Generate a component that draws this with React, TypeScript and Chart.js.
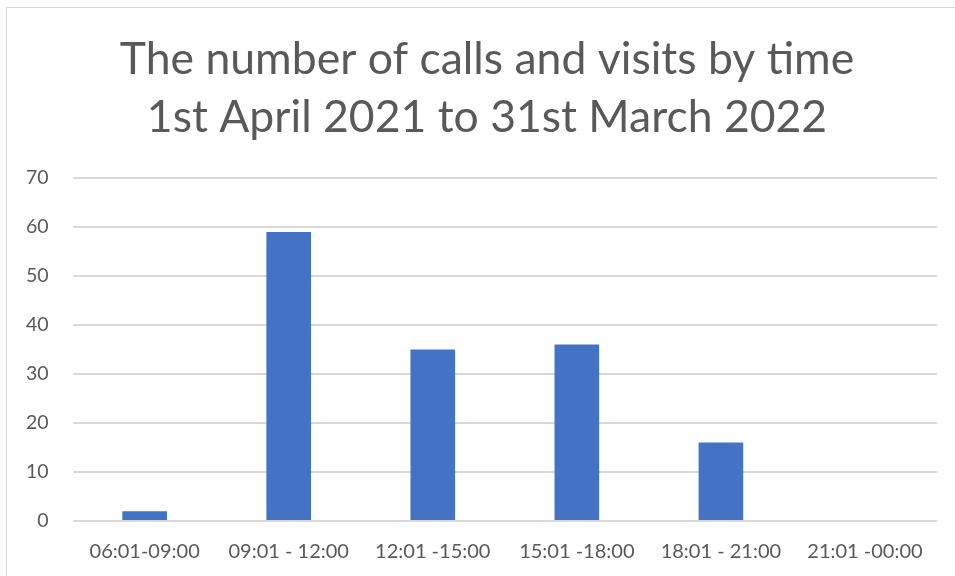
import React, { useEffect, useRef } from "react";
import { Chart, registerables } from "chart.js";

Chart.register(...registerables);

const categories = ["06:01-09:00", "09:01 - 12:00", "12:01 -15:00", "15:01 -18:00", "18:01 - 21:00", "21:01 -00:00"];
const calls = [2, 59, 35, 36, 16, 0];
const titleLines = ["The number of calls and visits by time", "1st April 2021 to 31st March 2022"];

const FONT = "Lato, 'Open Sans', sans-serif";

const titlePlugin = {
  id: "customTitle",
  afterDraw(chart: any) {
    const ctx = chart.ctx;
    ctx.save();
    ctx.fillStyle = "#595959";
    ctx.font = `44.5px ${FONT}`;
    ctx.textAlign = "center";
    ctx.textBaseline = "alphabetic";
    const cx = 487;
    const baselines = [74, 132];
    titleLines.forEach((t, i) => ctx.fillText(t, cx, baselines[i]));
    ctx.restore();
  },
};

export default function App() {
  const ref = useRef<HTMLCanvasElement>(null);
  useEffect(() => {
    if (!ref.current) return;
    const chart = new Chart(ref.current, {
      type: "bar",
      data: {
        labels: categories,
        datasets: [
          {
            data: calls,
            backgroundColor: "#4472C4",
            categoryPercentage: 1,
            barPercentage: 0.31,
          },
        ],
      },
      plugins: [titlePlugin],
      options: {
        animation: false,
        responsive: false,
        maintainAspectRatio: false,
        layout: { padding: { left: 2, right: 18, top: 178, bottom: 0 } },
        plugins: {
          legend: { display: false },
          tooltip: { enabled: false },
          title: { display: false },
        },
        scales: {
          x: {
            grid: { display: false },
            border: { display: false },
            ticks: { color: "#595959", font: { family: FONT, size: 20 }, padding: 11, maxRotation: 0 },
            afterFit: (s: any) => { s.height = 55; },
          },
          y: {
            min: 0,
            max: 70,
            ticks: { stepSize: 10, color: "#595959", font: { family: FONT, size: 19.5 }, padding: 24 },
            grid: { color: "#d9d9d9", lineWidth: 2, drawTicks: false },
            border: { display: false },
          },
        },
      },
    });
    return () => chart.destroy();
  }, []);
  return (
    <div style={{ position: "fixed", left: 0, top: 0, width: 955, height: 576, background: "#fff" }}>
      <div style={{ position: "absolute", left: 6, top: 7, width: 1000, height: 1000, border: "1px solid #d9d9d9" }} />
      <canvas ref={ref} width={955} height={576} style={{ position: "absolute", left: 0, top: 0 }} />
    </div>
  );
}
